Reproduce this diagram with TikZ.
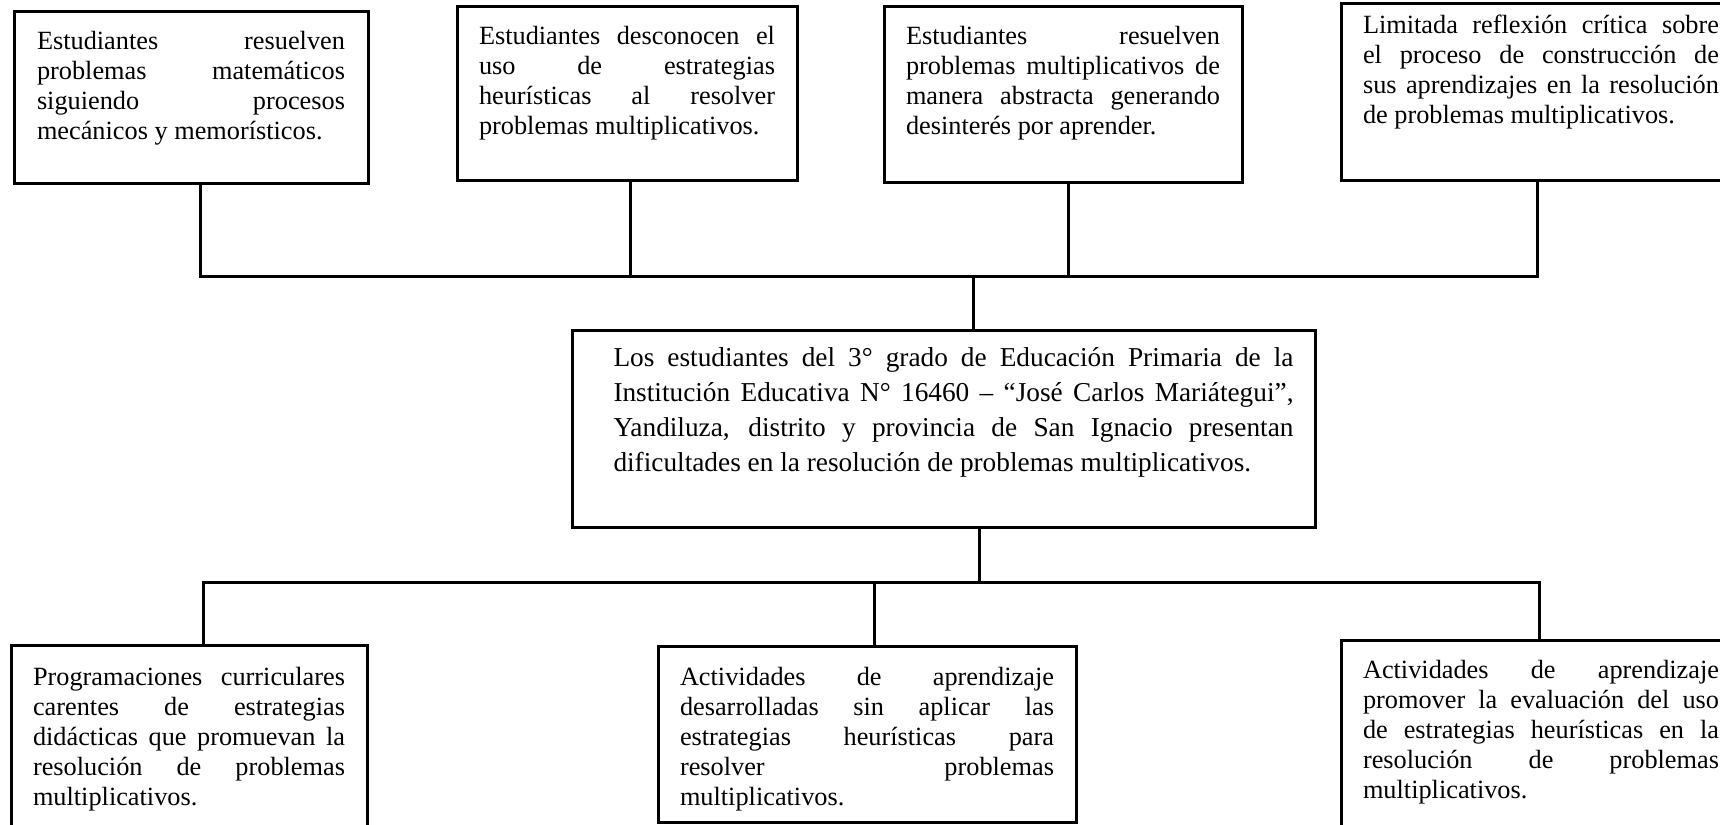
\documentclass[tikz,border=0pt]{standalone}
\usepackage{fontspec}
\setmainfont{Liberation Serif}

\begin{document}
\begin{tikzpicture}
  [x=1pt,y=-1pt,
   card/.style={draw,line width=3pt,rectangle,anchor=north west,outer sep=0pt,
     inner ysep=0pt,inner xsep=22pt,align=justify,
     font={\fontsize{26.3}{30}\selectfont\tolerance 10000 \hyphenpenalty 10000 }},
   link/.style={draw,line width=3pt}]
  \useasboundingbox (0,0) rectangle (1720,824);
  \clip (0,0) rectangle (1720,824);

  \node[card,inner xsep=23pt,text width=308pt,text height=38pt,text depth=133pt] (c1) at (14,12)
    {Estudiantes resuelven\linebreak problemas matemáticos\linebreak siguiendo procesos\linebreak mecánicos y memorísticos.};
  \node[card,text width=296pt,text height=38pt,text depth=135pt] (c2) at (457,7)
    {Estudiantes desconocen el\linebreak uso de estrategias\linebreak heurísticas al resolver\linebreak problemas multiplicativos.};
  \node[card,text width=314pt,text height=38pt,text depth=137pt] (c3) at (884,7)
    {Estudiantes resuelven\linebreak problemas multiplicativos de\linebreak manera abstracta generando\linebreak desinterés por aprender.};
  \node[card,text width=356pt,text height=30pt,text depth=146pt] (c4) at (1341,4)
    {Limitada reflexión crítica sobre\linebreak el proceso de construcción de\linebreak sus aprendizajes en la resolución\linebreak de problemas multiplicativos.};

  \node[card,inner xsep=21.5pt,text width=700pt,text height=36pt,text depth=161pt,
        font={\fontsize{27.3}{35}\selectfont\tolerance 10000 \hyphenpenalty 10000 }] (prob) at (572,330)
    {\hskip 20pt\parbox[t]{680pt}{Los estudiantes del 3° grado de Educación Primaria de la\linebreak Institución Educativa N° 16460 – “José Carlos Mariátegui”,\linebreak Yandiluza, distrito y provincia de San Ignacio presentan\linebreak dificultades en la resolución de problemas multiplicativos.}};

  \node[card,text width=312pt,text height=40pt,text depth=175pt] (e1) at (11,645)
    {Programaciones curriculares\linebreak carentes de estrategias\linebreak didácticas que promuevan la\linebreak resolución de problemas\linebreak multiplicativos.};
  \node[card,text width=374pt,text height=39pt,text depth=137pt] (e2) at (658,646)
    {Actividades de aprendizaje\linebreak desarrolladas sin aplicar las\linebreak estrategias heurísticas para\linebreak resolver problemas\linebreak multiplicativos.};
  \node[card,text width=356pt,text height=38pt,text depth=182pt] (e3) at (1341,640)
    {Actividades de aprendizaje\linebreak promover la evaluación del uso\linebreak de estrategias heurísticas en la\linebreak resolución de problemas\linebreak multiplicativos.};

  \coordinate (b1) at (200,276);
  \coordinate (b2) at (630,276);
  \coordinate (b3) at (1068,276);
  \coordinate (b4) at (1537,276);
  \coordinate (bt) at (973,276);
  \coordinate (d1) at (203,582);
  \coordinate (d2) at (874,582);
  \coordinate (d3) at (1539,582);
  \coordinate (dt) at (979,582);

  \draw[link] (c1.south -| b1) -- (b1) -- (b4) -- (c4.south -| b4);
  \foreach \n/\p in {c2/b2,c3/b3}
    \draw[link] (\n.south -| \p) -- (\p);
  \draw[link] (bt) -- (prob.north -| bt);

  \draw[link] (prob.south -| dt) -- (dt);
  \draw[link] (e1.north -| d1) -- (d1) -- (d3) -- (e3.north -| d3);
  \draw[link] (d2) -- (e2.north -| d2);

\end{tikzpicture}
\end{document}
